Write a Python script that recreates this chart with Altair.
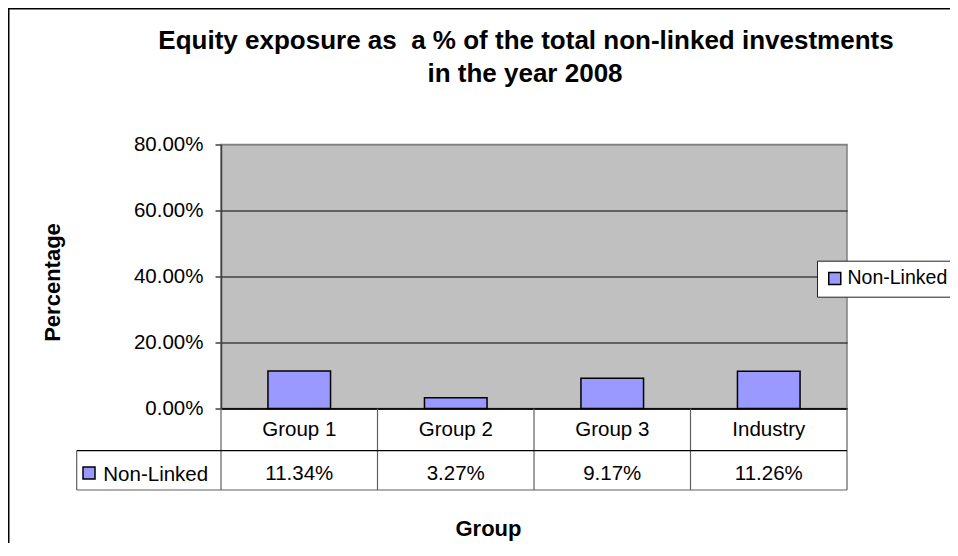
import altair as alt
import pandas as pd

# ---- data ----
categories = ["Group 1", "Group 2", "Group 3", "Industry"]
values = [0.1134, 0.0327, 0.0917, 0.1126]
series_name = "Non-Linked"
y_ticks = [0.0, 0.2, 0.4, 0.6, 0.8]
title_lines = ["Equity exposure as \u00a0a % of the total non-linked investments", "in the year 2008"]
x_title = "Group"
y_title = "Percentage"

# ---- styling / layout constants ----
FONT = "Liberation Sans"
BAR_COLOR = "#9999FF"
W, H = 626, 264
PAD_L, PAD_T = 213, 136.5
TOTAL_W, TOTAL_H = 942, 535
P_IN, P_OUT = 0.6, 0.3
STEP = W / (len(categories) - P_IN + 2 * P_OUT)
EDGE = P_OUT * STEP  # distance from a band's edge to its cell boundary

df = pd.DataFrame({"group": categories, "value": values, "series": [series_name] * len(categories)})
one = pd.DataFrame({"k": [0]})

x_axis = alt.Axis(
    title=x_title, orient="bottom", ticks=False, tickSize=0, labelPadding=26.5,
    labelBaseline="alphabetic", labelAngle=0, labelFontSize=20.5, labelFont=FONT,
    labelColor="black", domainColor="black", domainWidth=1.5, grid=False,
    titleX=267, titleY=126.5, titleAlign="center", titleBaseline="alphabetic",
    titleFontSize=22, titleFont=FONT, titleFontWeight="bold", titleColor="black",
)
x_scale = alt.Scale(paddingInner=P_IN, paddingOuter=P_OUT)


def xenc(**kw):
    return alt.X("group:N", sort=categories, scale=x_scale, axis=x_axis, **kw)


frame = alt.Chart(one).mark_rect(fillOpacity=0, stroke="black", strokeWidth=1.5).encode(
    x=alt.value(-PAD_L + 0.75), x2=alt.value(3000),
    y=alt.value(-PAD_T + 0.75), y2=alt.value(3000),
)

bars = alt.Chart(df).mark_bar(stroke="black", strokeWidth=1.5).encode(
    x=xenc(),
    y=alt.Y(
        "value:Q",
        scale=alt.Scale(domain=[0, 0.8], nice=False),
        axis=alt.Axis(
            values=y_ticks, format=".2%", title=y_title, tickSize=6, tickColor="#404040",
            tickWidth=1.5, labelPadding=12, labelFontSize=20.5, labelFont=FONT, labelColor="black",
            domainColor="#404040", domainWidth=1.5, grid=True,
            gridColor={"condition": {"test": "datum.value >= 0.79", "value": "#808080"}, "value": "black"},
            gridWidth=1, titleX=-169, titleY=137.5, titleAngle=270, titleAlign="center",
            titleBaseline="middle", titleFontSize=22, titleFont=FONT, titleFontWeight="bold",
            titleColor="black",
        ),
    ),
    color=alt.Color(
        "series:N",
        scale=alt.Scale(range=[BAR_COLOR]),
        legend=alt.Legend(
            title=None, orient="none", legendX=596, legendY=116.2, fillColor="white",
            strokeColor="#222222", padding=8, symbolType="square", symbolSize=144,
            symbolStrokeColor="black", symbolStrokeWidth=1.5, labelFontSize=19.5,
            labelFont=FONT, labelColor="black", labelOffset=3, cornerRadius=0,
        ),
    ),
)

# data-table grid lines
vlines = alt.Chart(df).mark_rule(color="#606060", strokeWidth=1.2, xOffset=-EDGE).encode(
    x=xenc(bandPosition=0),
    y=alt.value(H), y2=alt.value(H + 81.5),
)
vline_end = alt.Chart(df).transform_filter(alt.datum.group == categories[-1]).mark_rule(
    color="#606060", strokeWidth=1.2, xOffset=EDGE
).encode(
    x=xenc(bandPosition=1),
    y=alt.value(H), y2=alt.value(H + 81.5),
)
hline_mid = alt.Chart(one).mark_rule(color="black", strokeWidth=1.2).encode(
    x=alt.value(-144.3), x2=alt.value(W), y=alt.value(306.2)
)
hline_bot = alt.Chart(one).mark_rule(color="#606060", strokeWidth=1.2).encode(
    x=alt.value(-144.3), x2=alt.value(W), y=alt.value(345.5)
)
vline_cell = alt.Chart(one).mark_rule(color="#606060", strokeWidth=1.2).encode(
    x=alt.value(-144.3), y=alt.value(306.2), y2=alt.value(345.5)
)

# data-table row
row_text = alt.Chart(df).mark_text(
    align="center", baseline="alphabetic", fontSize=20.5, font=FONT, color="black"
).encode(
    x=xenc(),
    y=alt.value(335.5),
    text=alt.Text("value:Q", format=".2%"),
)
row_label = alt.Chart(one).mark_text(
    align="left", baseline="alphabetic", fontSize=20.5, font=FONT, color="black", text=series_name
).encode(x=alt.value(-117.7), y=alt.value(336))
row_swatch = alt.Chart(one).mark_square(
    size=144, filled=True, fill=BAR_COLOR, stroke="black", strokeWidth=1.5, opacity=1
).encode(x=alt.value(-132), y=alt.value(328.5))

# chart title as two text lines
title1 = alt.Chart(one).mark_text(
    align="center", baseline="alphabetic", fontSize=26, font=FONT, fontWeight="bold",
    color="black", text=title_lines[0]
).encode(x=alt.value(305), y=alt.value(-95.5))
title2 = alt.Chart(one).mark_text(
    align="center", baseline="alphabetic", fontSize=26, font=FONT, fontWeight="bold",
    color="black", text=title_lines[1]
).encode(x=alt.value(304), y=alt.value(-62.5))

chart = alt.layer(
    frame, bars, vlines, vline_end, hline_mid, hline_bot, vline_cell,
    row_text, row_label, row_swatch, title1, title2,
).properties(
    width=W, height=H,
    autosize=alt.AutoSizeParams(type="none"),
    padding={"left": PAD_L, "top": PAD_T, "right": TOTAL_W - PAD_L - W, "bottom": TOTAL_H - PAD_T - H},
).configure(
    background="white", font=FONT
).configure_view(
    fill="#C0C0C0", stroke="#808080", strokeWidth=1.5
)

chart.save("out.html", embed_options={"renderer": "svg", "actions": False})
